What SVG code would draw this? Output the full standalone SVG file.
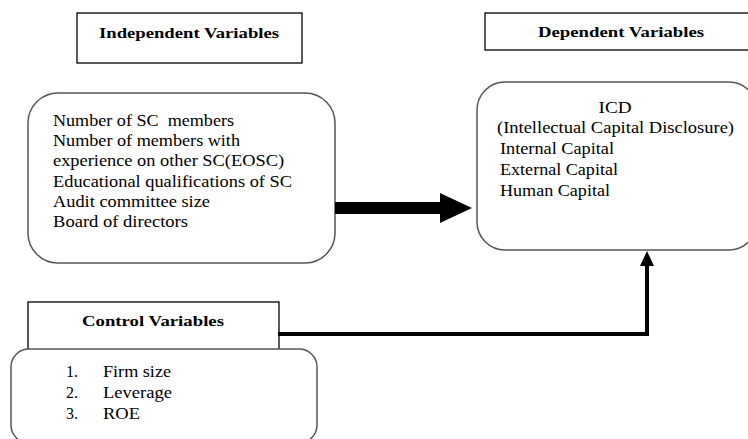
<svg xmlns="http://www.w3.org/2000/svg" width="748" height="439" viewBox="0 0 748 439">
<style>
.hdr{fill:#fff;stroke:#000;stroke-width:1.3}
.rbox{fill:#fff;stroke:#555;stroke-width:1.5}
.ht{font-weight:bold;font-size:15px;fill:#000}
.bt{font-size:16px;fill:#000}
.conn{fill:none;stroke:#000}
</style>
<rect width="748" height="439" fill="#fff"/>
<g font-family="Liberation Serif, Times New Roman, DejaVu Serif, serif">
<g id="independent-header">
<rect class="hdr" x="77" y="13" width="225" height="50"/>
<text class="ht" x="189" y="38" text-anchor="middle" textLength="180" lengthAdjust="spacingAndGlyphs">Independent Variables</text>
</g>
<g id="dependent-header">
<rect class="hdr" x="485" y="13" width="275" height="37"/>
<text class="ht" x="621" y="37" text-anchor="middle" textLength="166" lengthAdjust="spacingAndGlyphs">Dependent Variables</text>
</g>
<g id="independent">
<rect class="rbox" x="28" y="93" width="307" height="170" rx="30" ry="30"/>
<text class="bt" x="53" y="126" xml:space="preserve" textLength="181" lengthAdjust="spacingAndGlyphs">Number of SC  members</text>
<text class="bt" x="53" y="146" textLength="187" lengthAdjust="spacingAndGlyphs">Number of members with</text>
<text class="bt" x="53" y="166" textLength="231" lengthAdjust="spacingAndGlyphs">experience on other SC(EOSC)</text>
<text class="bt" x="53" y="187" textLength="239" lengthAdjust="spacingAndGlyphs">Educational qualifications of SC</text>
<text class="bt" x="53" y="207" textLength="157" lengthAdjust="spacingAndGlyphs">Audit committee size</text>
<text class="bt" x="53" y="227" textLength="135" lengthAdjust="spacingAndGlyphs">Board of directors</text>
</g>
<g id="dependent">
<rect class="rbox" x="477" y="82" width="280" height="168" rx="28" ry="28"/>
<text class="bt" x="615" y="113" text-anchor="middle" textLength="33" lengthAdjust="spacingAndGlyphs">ICD</text>
<text class="bt" x="497" y="133" textLength="237" lengthAdjust="spacingAndGlyphs">(Intellectual Capital Disclosure)</text>
<text class="bt" x="500" y="154" textLength="114" lengthAdjust="spacingAndGlyphs">Internal Capital</text>
<text class="bt" x="500" y="175" textLength="118" lengthAdjust="spacingAndGlyphs">External Capital</text>
<text class="bt" x="500" y="196" textLength="110" lengthAdjust="spacingAndGlyphs">Human Capital</text>
</g>
<g id="control-header">
<rect class="hdr" x="28" y="302" width="251" height="50"/>
<text class="ht" x="153" y="326" text-anchor="middle" textLength="142" lengthAdjust="spacingAndGlyphs">Control Variables</text>
</g>
<g id="control">
<rect class="rbox" x="11" y="349" width="306" height="94" rx="18" ry="18"/>
<text class="bt" x="66" y="377">1.</text>
<text class="bt" x="103" y="377" textLength="68" lengthAdjust="spacingAndGlyphs">Firm size</text>
<text class="bt" x="66" y="398">2.</text>
<text class="bt" x="103" y="398" textLength="69" lengthAdjust="spacingAndGlyphs">Leverage</text>
<text class="bt" x="66" y="419">3.</text>
<text class="bt" x="103" y="419" textLength="37" lengthAdjust="spacingAndGlyphs">ROE</text>
</g>
</g>
<g id="connectors">
<line class="conn" x1="335" y1="208" x2="441" y2="208" stroke-width="12"/>
<path d="M440,193 L472,208 L440,223 Z" fill="#000"/>
<polyline class="conn" points="278,334 647,334 647,266" stroke-width="4" stroke-linejoin="miter"/>
<path d="M640,266 L647,251 L654,266 Z" fill="#000"/>
</g>
</svg>
